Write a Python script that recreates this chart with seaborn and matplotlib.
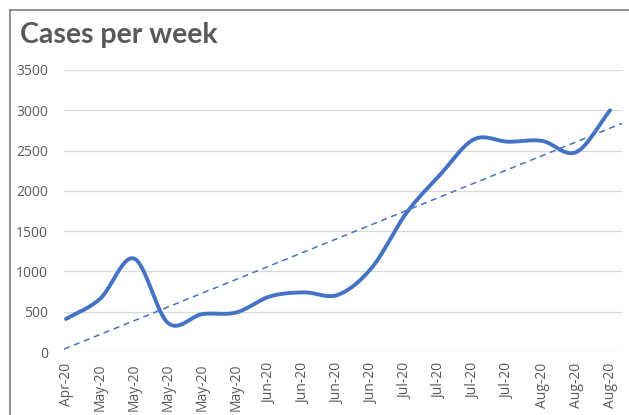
import numpy as np
import pandas as pd
import matplotlib
matplotlib.use("Agg")
import matplotlib.pyplot as plt
from matplotlib.lines import Line2D
import seaborn as sns

# --- data ---
weeks = ["Apr-20", "May-20", "May-20", "May-20", "May-20", "May-20",
         "Jun-20", "Jun-20", "Jun-20", "Jun-20", "Jul-20", "Jul-20",
         "Jul-20", "Jul-20", "Aug-20", "Aug-20", "Aug-20"]
cases = [410, 660, 1160, 360, 470, 490, 690, 740, 710, 1050,
         1720, 2200, 2640, 2610, 2620, 2480, 3000]
y_ticks = [0, 500, 1000, 1500, 2000, 2500, 3000, 3500]

BLUE = "#4472C4"
GREY = "#595959"

sns.set_theme(style="white")
plt.rcParams["font.family"] = ["Open Sans", "DejaVu Sans"]


def smooth(xs, ys, n=30):
    # Catmull-Rom style smoothing like Excel's "smoothed line"
    xs = np.asarray(xs, float); ys = np.asarray(ys, float)
    px = np.concatenate([[2 * xs[0] - xs[1]], xs, [2 * xs[-1] - xs[-2]]])
    py = np.concatenate([[2 * ys[0] - ys[1]], ys, [2 * ys[-1] - ys[-2]]])
    ox, oy = [], []
    for i in range(1, len(px) - 2):
        t = np.linspace(0, 1, n, endpoint=False)
        for p, out in ((px, ox), (py, oy)):
            p0, p1, p2, p3 = p[i - 1], p[i], p[i + 1], p[i + 2]
            m1 = (p2 - p0) / 2; m2 = (p3 - p1) / 2
            h00 = 2 * t**3 - 3 * t**2 + 1; h10 = t**3 - 2 * t**2 + t
            h01 = -2 * t**3 + 3 * t**2; h11 = t**3 - t**2
            out.extend(h00 * p1 + h10 * m1 + h01 * p2 + h11 * m2)
    ox.append(xs[-1]); oy.append(ys[-1])
    return np.array(ox), np.array(oy)


df = pd.DataFrame({"idx": np.arange(len(cases)), "cases": cases})
sx, sy = smooth(df["idx"], df["cases"])
curve = pd.DataFrame({"x": sx, "y": sy})

fig = plt.figure(figsize=(6.29, 4.15), dpi=100)
ax = fig.add_axes([64 / 629, 63 / 415, 558 / 629, 282 / 415])
ax.set_xlim(-0.06, 16.35)
ax.set_ylim(0, 3500)

for v in y_ticks:
    ax.axhline(v, color="#D9D9D9", lw=0.9, zorder=0)

sns.regplot(data=df, x="idx", y="cases", scatter=False, ci=None, truncate=False,
            ax=ax, line_kws=dict(color=BLUE, lw=1.1, ls=(0, (4, 3))))
sns.lineplot(data=curve, x="x", y="y", ax=ax, color=BLUE, lw=2.8,
             solid_capstyle="round", sort=False)
ax.set_xlim(-0.06, 16.35)

ax.set_xticks(df["idx"])
ax.set_xticklabels(weeks, rotation=90, fontsize=10, color=GREY)
ax.set_yticks(y_ticks)
ax.set_yticklabels([str(v) for v in y_ticks], fontsize=10, color=GREY)
ax.tick_params(axis="x", length=0, pad=8)
ax.tick_params(axis="y", length=0, pad=11.5)
ax.set_xlabel(""); ax.set_ylabel("")
for s in ax.spines.values():
    s.set_visible(False)

fig.text(20 / 629, 1 - 35 / 415, "Cases per week", fontsize=20.5, fontweight="bold",
         color=GREY, va="center", ha="left", family=["Lato", "DejaVu Sans"])

# chart-area border (top and left visible)
fig.add_artist(Line2D([10 / 629, 1], [1 - 10 / 415] * 2, color="#7F7F7F", lw=1.2))
fig.add_artist(Line2D([10 / 629] * 2, [0, 1 - 10 / 415], color="#7F7F7F", lw=1.2))

fig.savefig("out.png", dpi=100)
